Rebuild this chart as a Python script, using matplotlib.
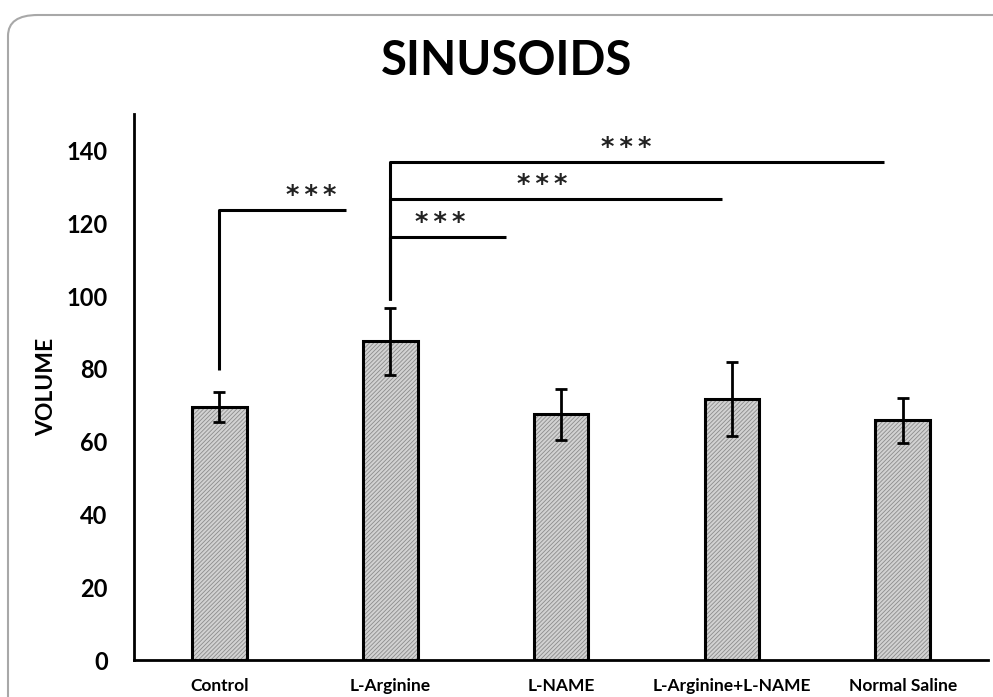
import numpy as np
import matplotlib.pyplot as plt
from matplotlib.patches import FancyBboxPatch

groups = ['Control', 'L-Arginine', 'L-NAME', 'L-Arginine+L-NAME', 'Normal Saline']
volume = [69.5, 87.6, 67.6, 71.7, 65.9]
volume_err = [4.2, 9.3, 7.0, 10.2, 6.2]

# significance brackets: (start, end, height, bottom of vertical)
brackets = [(0, 0.74, 123.6, 79.7),
            (1, 1.68, 116.2, 98.9),
            (1, 2.94, 126.6, 98.9),
            (1, 3.89, 136.8, 98.9)]
stars = [(0.54, 128.6), (1.29, 121.2), (1.89, 131.6), (2.38, 141.8)]

plt.rcParams['font.family'] = ['Lato', 'DejaVu Sans']
plt.rcParams['hatch.color'] = '#8c8c8c'
plt.rcParams['hatch.linewidth'] = 0.6

fig = plt.figure(figsize=(9.93, 6.97), dpi=100)
border = FancyBboxPatch((8 / 993, -0.2), 1.2, 1.2 - 15 / 697,
                        boxstyle='round,pad=0,rounding_size=0.03',
                        transform=fig.transFigure, facecolor='none',
                        edgecolor='#a8a8a8', linewidth=1.5, zorder=-1)
fig.patches.append(border)

ax = fig.add_axes([0.135, 0.053, 0.86, 0.783])
ax.patch.set_alpha(0)
x = np.arange(len(groups))

ax.bar(x, volume, width=0.32, color='#d2d2d2', hatch='////////', edgecolor='#8c8c8c', linewidth=0, zorder=2)
ax.bar(x, volume, width=0.32, color='none', edgecolor='black', linewidth=2.2, zorder=3)
ax.errorbar(x, volume, yerr=volume_err, fmt='none', ecolor='black', elinewidth=2,
            capsize=4, capthick=2, zorder=4)

for x0, x1, h, b in brackets:
    ax.plot([x0, x0, x1], [b, h, h], color='black', lw=2.2, solid_capstyle='butt', zorder=4)
for sx, sy in stars:
    ax.annotate('*\u2009*\u2009*', (sx, sy), xytext=(0, -8.6), textcoords='offset points',
                ha='center', va='baseline', fontsize=18.5, fontweight='bold',
                family='DejaVu Sans', color='#222222')

ax.set_xlim(-0.5, 4.5)
ax.set_ylim(0, 150)
ax.set_yticks(range(0, 141, 20))
ax.set_xticks(x)
ax.set_xticklabels(groups, fontsize=12.5, fontweight='bold')
for lab in ax.get_yticklabels():
    lab.set_fontsize(17)
    lab.set_fontweight('bold')
ax.tick_params(length=0)
ax.tick_params(axis='y', pad=19)
ax.tick_params(axis='x', pad=13)
for s in ['top', 'right']:
    ax.spines[s].set_visible(False)
ax.spines['left'].set_linewidth(2)
ax.spines['bottom'].set_linewidth(2)
ax.set_ylabel('VOLUME', fontsize=16.5, fontweight='bold', labelpad=7)

fig.text(0.51, 0.913, 'SINUSOIDS', ha='center', va='center', fontsize=34, fontweight='bold')

fig.savefig('out.png', dpi=100)
